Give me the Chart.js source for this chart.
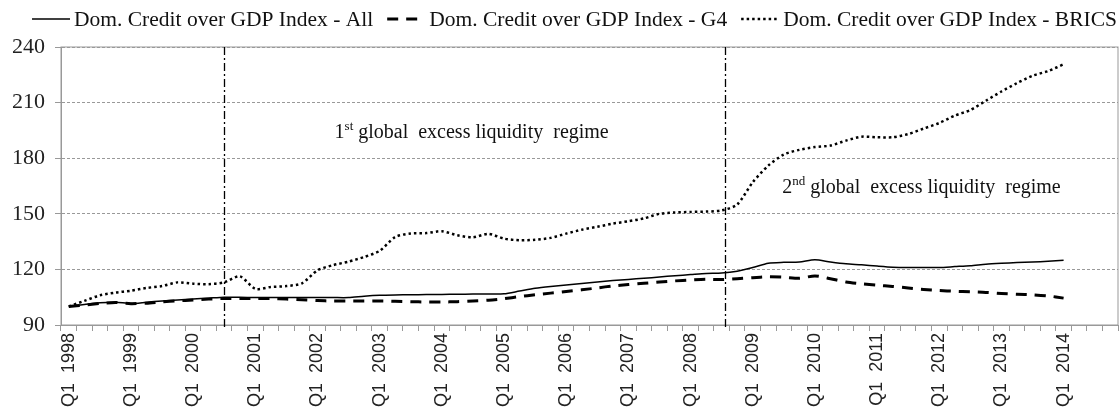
<!DOCTYPE html>
<html>
<head>
<meta charset="utf-8">
<script src="https://cdn.jsdelivr.net/npm/chart.js@4.4.1/dist/chart.umd.min.js"></script>
<style>
  html, body { margin: 0; padding: 0; background: #fff; }
</style>
</head>
<body>
<canvas id="chart" width="1119" height="410"></canvas>
<script>
// x axis runs Q1 1998 .. Q4 2014, data stops at Q1 2014
const years = [1998, 1999, 2000, 2001, 2002, 2003, 2004, 2005, 2006, 2007, 2008, 2009, 2010, 2011, 2012, 2013, 2014];
const quarterNames = ['Q1', 'Q2', 'Q3', 'Q4'];
const quarterLabels = [];
years.forEach(y => quarterNames.forEach(q => quarterLabels.push(q + '  ' + y)));

const seriesNames = [
    'Dom. Credit over GDP Index - All',
    'Dom. Credit over GDP Index - G4',
    'Dom. Credit over GDP Index - BRICS'
];

const allIndex = [
    100, 101, 102, 102.3, 101.6, 102.3, 103, 103.5, 104, 104.5,
    105, 105, 104.8, 104.8, 104.8, 104.8, 104.8, 104.8, 104.8, 105.5,
    106, 106.2, 106.3, 106.4, 106.5, 106.6, 106.7, 106.7, 106.8, 108.3,
    109.8, 110.8, 111.6, 112.4, 113.2, 114, 114.6, 115.2, 115.9, 116.6,
    117.2, 117.8, 118, 119, 121, 123.3, 123.8, 124, 125.2, 124,
    123, 122.5, 121.8, 121.2, 121, 121, 121, 121.5, 122, 122.8,
    123.3, 123.7, 124, 124.4, 124.9
];

const g4Index = [
    100, 100.8, 101.6, 102.2, 101.5, 101.8, 102.5, 103, 103.5, 104,
    104.3, 104.3, 104.3, 104.3, 104, 103.6, 103.2, 102.9, 102.9, 102.9,
    103, 102.8, 102.6, 102.4, 102.4, 102.6, 103, 103.4, 104.2, 105.3,
    106.3, 107.2, 108.1, 109, 110, 111.1, 111.8, 112.5, 113.2, 113.8,
    114.3, 114.7, 114.5, 115, 115.5, 116, 115.8, 115.2, 116.5, 115,
    113.2, 112.2, 111.5, 110.8, 110, 109.2, 108.6, 108.2, 107.9, 107.6,
    107, 106.6, 106.3, 105.7, 104.5
];

const bricsIndex = [
    100, 103, 106, 107.5, 108.5, 110, 111, 113, 112.3, 112,
    113, 116.3, 109.5, 110.5, 111, 112.5, 119.5, 122.3, 124.2, 126.7,
    130, 137.5, 139.4, 139.6, 140.6, 138.4, 137.3, 139.2, 136.6, 135.7,
    136, 137, 139.3, 141.4, 143, 144.7, 146, 147.5, 150, 150.7,
    151, 151.2, 151.8, 155, 167, 176, 182, 184.5, 186, 186.8,
    189.5, 191.6, 191.3, 191.3, 193, 196, 199, 203, 206, 211,
    216, 220.5, 224.5, 227, 230.7
];

const yTicks = [90, 120, 150, 180, 210, 240];

// regime boundaries (category index) and their captions
const regimeBreaks = [10, 42.2];
const regimeNotes = [
    { num: '1', sup: 'st', text: 'global  excess liquidity  regime', at: 17.1, value: 194 },
    { num: '2', sup: 'nd', text: 'global  excess liquidity  regime', at: 45.9, value: 164 }
];

const serif = '"Liberation Serif", "Times New Roman", serif';
const sans = '"Liberation Sans", Arial, sans-serif';

const regimePlugin = {
    id: 'regimes',
    afterDatasetsDraw(chart) {
        const { ctx, chartArea, scales } = chart;
        ctx.save();
        // frame around plot
        ctx.strokeStyle = '#999';
        ctx.lineWidth = 1;
        ctx.setLineDash([]);
        ctx.strokeRect(chartArea.left, chartArea.top, chartArea.right - chartArea.left, chartArea.bottom - chartArea.top);

        // dash-dot vertical lines
        ctx.strokeStyle = '#000';
        ctx.lineWidth = 1.3;
        ctx.setLineDash([8, 3, 2, 3]);
        regimeBreaks.forEach(b => {
            const x = Math.round(scales.x.getPixelForValue(b)) + 0.5;
            ctx.beginPath();
            ctx.moveTo(x, chartArea.top);
            ctx.lineTo(x, chartArea.bottom + 4);
            ctx.stroke();
        });

        // captions
        ctx.setLineDash([]);
        ctx.fillStyle = '#111';
        ctx.textBaseline = 'middle';
        ctx.textAlign = 'left';
        regimeNotes.forEach(n => {
            let x = scales.x.getPixelForValue(n.at);
            const y = scales.y.getPixelForValue(n.value);
            ctx.font = '20px ' + serif;
            ctx.fillText(n.num, x, y);
            x += ctx.measureText(n.num).width;
            ctx.font = '13px ' + serif;
            ctx.fillText(n.sup, x, y - 6);
            x += ctx.measureText(n.sup).width + 5;
            ctx.font = '20px ' + serif;
            ctx.fillText(n.text, x, y);
        });
        ctx.restore();
    }
};

const legendPlugin = {
    id: 'lineLegend',
    afterDraw(chart) {
        const ctx = chart.ctx;
        const sample = 38, gap = 4, itemGap = 14;
        ctx.save();
        ctx.font = '21.5px ' + serif;
        const widths = chart.data.datasets.map(d => ctx.measureText(d.label).width);
        const total = widths.reduce((s, w) => s + w + sample + gap, 0) + itemGap * (widths.length - 1);
        let x = (chart.width - total) / 2 + 15;
        const y = 19;
        chart.data.datasets.forEach((d, i) => {
            ctx.strokeStyle = '#000';
            ctx.lineWidth = d.borderWidth;
            ctx.setLineDash(d.borderDash || []);
            ctx.beginPath();
            ctx.moveTo(x, y);
            ctx.lineTo(x + sample, y);
            ctx.stroke();
            x += sample + gap;
            ctx.setLineDash([]);
            ctx.fillStyle = '#111';
            ctx.textBaseline = 'middle';
            ctx.fillText(d.label, x, y + 1);
            x += widths[i] + itemGap;
        });
        ctx.restore();
    }
};

new Chart(document.getElementById('chart'), {
    type: 'line',
    data: {
        labels: quarterLabels,
        datasets: [
            {
                label: seriesNames[0],
                data: allIndex,
                borderColor: '#000',
                borderWidth: 1.5,
                pointRadius: 0,
                tension: 0.25
            },
            {
                label: seriesNames[1],
                data: g4Index,
                borderColor: '#000',
                borderWidth: 3,
                borderDash: [11, 8],
                pointRadius: 0,
                tension: 0.25
            },
            {
                label: seriesNames[2],
                data: bricsIndex,
                borderColor: '#000',
                borderWidth: 2.5,
                borderDash: [2.5, 3],
                pointRadius: 0,
                tension: 0.25
            }
        ]
    },
    options: {
        responsive: false,
        animation: false,
        layout: { padding: { top: 47, right: 1, left: 0, bottom: 0 } },
        plugins: {
            legend: { display: false },
            tooltip: { enabled: false }
        },
        scales: {
            x: {
                offset: true,
                afterFit(scale) {
                    scale.height = 85;
                    scale.paddingLeft = 0;
                    scale.paddingRight = 0;
                },
                grid: {
                    offset: true,
                    drawOnChartArea: false,
                    drawTicks: true,
                    tickLength: 6,
                    color: '#999'
                },
                border: { color: '#999' },
                ticks: {
                    autoSkip: false,
                    minRotation: 90,
                    maxRotation: 90,
                    padding: 2,
                    color: '#222',
                    font: { family: sans, size: 18 },
                    callback: function (v, i) {
                        return i % 4 === 0 ? this.getLabelForValue(v) : '';
                    }
                }
            },
            y: {
                min: 90,
                max: 240,
                afterFit(scale) { scale.width = 61; },
                afterBuildTicks(scale) { scale.ticks = yTicks.map(v => ({ value: v })); },
                grid: {
                    color: '#999',
                    tickLength: 6,
                    tickColor: '#999',
                    tickBorderDash: []
                },
                border: { color: '#999', dash: [3, 2] },
                ticks: {
                    color: '#222',
                    padding: 10,
                    font: { family: serif, size: 22 }
                }
            }
        }
    },
    plugins: [regimePlugin, legendPlugin]
});
</script>
</body>
</html>
